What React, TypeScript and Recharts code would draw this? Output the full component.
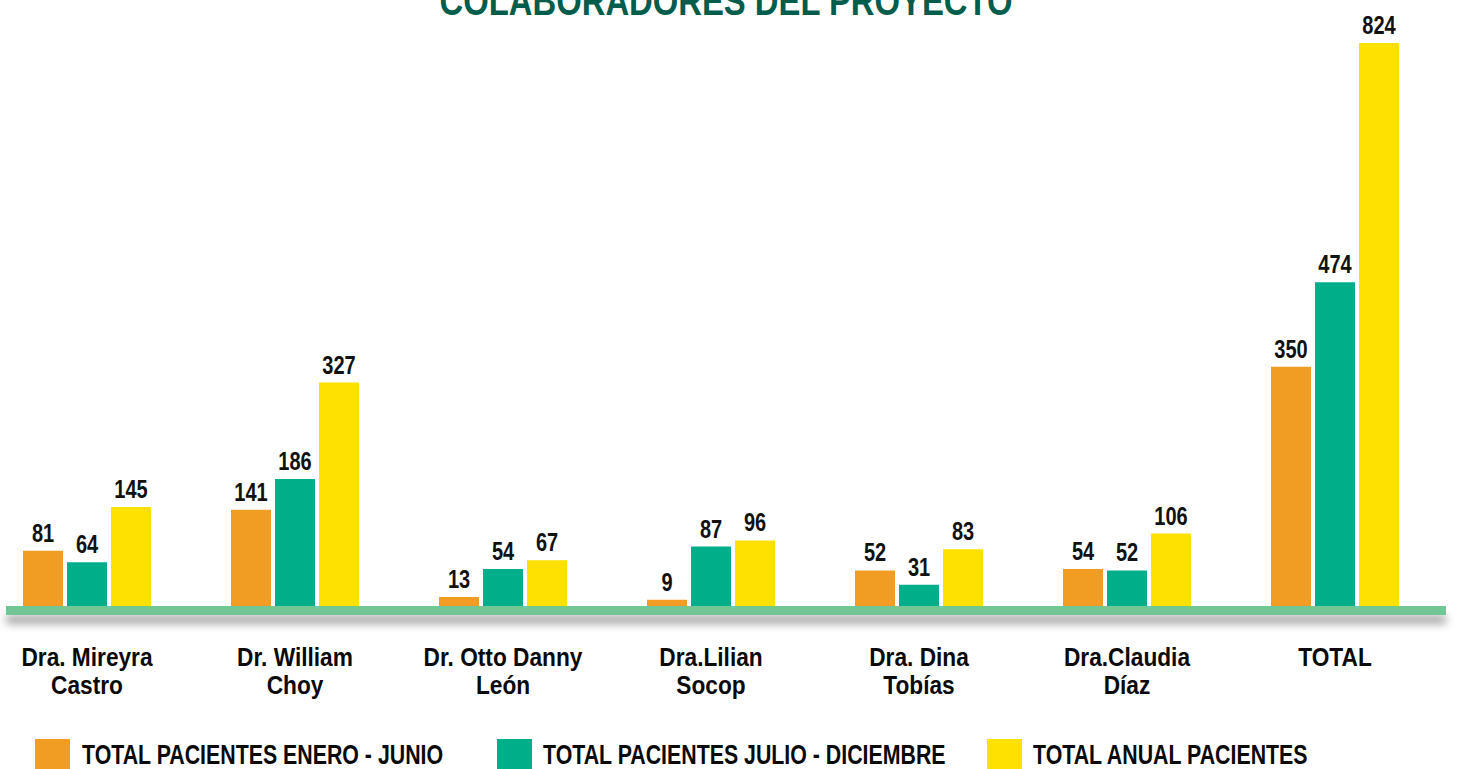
import { Bar, BarChart, LabelList, XAxis, YAxis } from 'recharts';

const categories = [
  'Dra. Mireyra\nCastro',
  'Dr. William\nChoy',
  'Dr. Otto Danny\nLeón',
  'Dra.Lilian\nSocop',
  'Dra. Dina\nTobías',
  'Dra.Claudia\nDíaz',
  'TOTAL',
];
const enero = [81, 141, 13, 9, 52, 54, 350];
const julio = [64, 186, 54, 87, 31, 52, 474];
const anual = [145, 327, 67, 96, 83, 106, 824];

const seriesNames = [
  'TOTAL PACIENTES ENERO - JUNIO',
  'TOTAL PACIENTES JULIO - DICIEMBRE',
  'TOTAL ANUAL PACIENTES',
];
const colors = ['#F19C23', '#00AF8A', '#FEE100'];

const FONT = "'Liberation Sans', Arial, Helvetica, sans-serif";

const data = categories.map((name, i) => ({
  name,
  enero: enero[i],
  julio: julio[i],
  anual: anual[i],
}));

function CategoryTick({ x, y, payload }: any) {
  const lines = String(payload.value).split('\n');
  return (
    <g>
      {lines.map((l, i) => (
        <text
          key={i}
          transform={`translate(${x},${y + 60 + i * 28}) scale(0.89,1)`}
          textAnchor="middle"
          fill="#0a0a0a"
          fontFamily={FONT}
          fontWeight={700}
          fontSize={25.5}
        >
          {l}
        </text>
      ))}
    </g>
  );
}

function ValueLabel({ x, y, width, value }: any) {
  const cx = Number(x) + Number(width) / 2;
  return (
    <text
      transform={`translate(${cx},${Number(y) - 9}) scale(0.8,1)`}
      textAnchor="middle"
      fill="#111"
      fontFamily={FONT}
      fontWeight={700}
      fontSize={25}
    >
      {value}
    </text>
  );
}

function LegendBox() {
  const squares = [35, 497, 987];
  const texts = [82, 543, 1033];
  return (
    <div style={{ position: 'absolute', left: 0, top: 739, width: 1460, height: 30 }}>
      {seriesNames.map((n, i) => (
        <div key={n}>
          <div
            style={{
              position: 'absolute',
              left: squares[i],
              top: 0,
              width: 35,
              height: 36,
              background: colors[i],
            }}
          />
          <div
            style={{
              position: 'absolute',
              left: texts[i],
              top: 1,
              fontFamily: FONT,
              fontWeight: 700,
              fontSize: 27,
              lineHeight: '30px',
              color: '#0a0a0a',
              whiteSpace: 'nowrap',
              transform: 'scaleX(0.79)',
              transformOrigin: 'left center',
            }}
          >
            {n}
          </div>
        </div>
      ))}
    </div>
  );
}

export default function App() {
  return (
    <div
      style={{
        position: 'absolute',
        left: 0,
        top: 0,
        width: 1460,
        height: 769,
        overflow: 'hidden',
        background: '#fff',
      }}
    >
      <div
        style={{
          position: 'absolute',
          left: 0,
          width: 1460,
          top: -21,
          textAlign: 'center',
          fontFamily: FONT,
          fontWeight: 700,
          fontSize: 41,
          lineHeight: '44px',
          color: '#005C4B',
        }}
      >
        <span
          style={{
            display: 'inline-block',
            transform: 'scaleX(0.8)',
            transformOrigin: 'center',
            position: 'relative',
            left: -4,
          }}
        >
          COLABORADORES DEL PROYECTO
        </span>
      </div>
      <BarChart
        width={1460}
        height={769}
        data={data}
        margin={{ top: 4.74, right: 21, left: -17, bottom: 0 }}
        barGap={4}
        barSize={40}
      >
        <XAxis
          dataKey="name"
          interval={0}
          tickLine={false}
          axisLine={false}
          tickSize={0}
          tickMargin={0}
          tick={<CategoryTick />}
          height={163}
        />
        <YAxis hide domain={[0, 880]} width={0} />
        <Bar dataKey="enero" fill={colors[0]} isAnimationActive={false}>
          <LabelList dataKey="enero" content={<ValueLabel />} />
        </Bar>
        <Bar dataKey="julio" fill={colors[1]} isAnimationActive={false}>
          <LabelList dataKey="julio" content={<ValueLabel />} />
        </Bar>
        <Bar dataKey="anual" fill={colors[2]} isAnimationActive={false}>
          <LabelList dataKey="anual" content={<ValueLabel />} />
        </Bar>
      </BarChart>
      <div
        style={{
          position: 'absolute',
          left: 6,
          top: 606,
          width: 1440,
          height: 9,
          background: '#72C594',
          boxShadow: '0 9px 9px rgba(0,0,0,0.35)',
        }}
      />
      <LegendBox />
    </div>
  );
}
